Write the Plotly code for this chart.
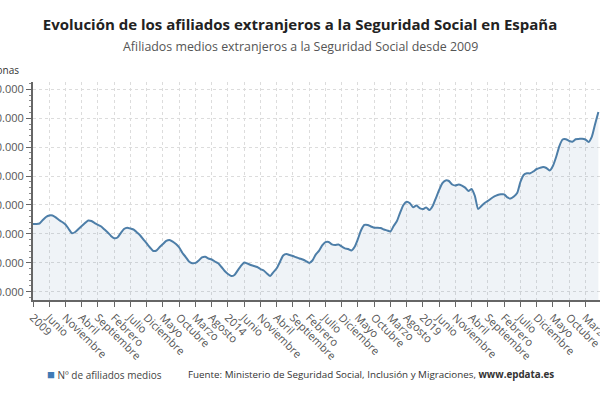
import plotly.graph_objects as go

# Afiliados medios extranjeros, mensual desde enero de 2009
afiliados = [
    1869000, 1869000, 1872000, 1896000, 1917000, 1927000, 1927000, 1914000, 1896000, 1882000,
    1865000, 1834000, 1804000, 1813000, 1834000, 1855000, 1875000, 1893000, 1889000, 1875000,
    1862000, 1851000, 1830000, 1810000, 1786000, 1770000, 1775000, 1806000, 1834000, 1843000,
    1837000, 1830000, 1810000, 1789000, 1761000, 1734000, 1706000, 1682000, 1685000, 1709000,
    1730000, 1751000, 1758000, 1747000, 1730000, 1706000, 1668000, 1640000, 1609000, 1597000,
    1599000, 1616000, 1637000, 1642000, 1630000, 1623000, 1609000, 1597000, 1571000, 1543000,
    1523000, 1509000, 1516000, 1547000, 1578000, 1602000, 1595000, 1585000, 1578000, 1571000,
    1557000, 1547000, 1526000, 1509000, 1536000, 1562000, 1606000, 1651000, 1661000, 1654000,
    1647000, 1638000, 1630000, 1623000, 1612000, 1599000, 1616000, 1657000, 1682000, 1720000,
    1743000, 1744000, 1727000, 1723000, 1727000, 1713000, 1700000, 1695000, 1685000, 1711000,
    1765000, 1827000, 1862000, 1862000, 1851000, 1843000, 1843000, 1841000, 1830000, 1824000,
    1817000, 1855000, 1889000, 1948000, 2000000, 2023000, 2012000, 1984000, 1997000, 1979000,
    1972000, 1983000, 1965000, 1993000, 2048000, 2104000, 2152000, 2170000, 2166000, 2142000,
    2135000, 2142000, 2134000, 2120000, 2097000, 2111000, 2062000, 1972000, 1993000, 2014000,
    2028000, 2045000, 2059000, 2069000, 2074000, 2074000, 2052000, 2045000, 2059000, 2083000,
    2159000, 2208000, 2219000, 2219000, 2232000, 2249000, 2257000, 2263000, 2256000, 2239000,
    2270000, 2332000, 2408000, 2453000, 2455000, 2443000, 2438000, 2455000, 2457000, 2459000,
    2453000, 2436000, 2473000, 2561000, 2644000,
]

meses = [f"{2009 + i // 12}-{i % 12 + 1:02d}" for i in range(len(afiliados))]

# una etiqueta cada cinco meses
etiquetas = [
    "2009", "Junio", "Noviembre", "Abril", "Septiembre", "Febrero", "Julio", "Diciembre",
    "Mayo", "Octubre", "Marzo", "Agosto", "2014", "Junio", "Noviembre", "Abril",
    "Septiembre", "Febrero", "Julio", "Diciembre", "Mayo", "Octubre", "Marzo", "Agosto",
    "2019", "Junio", "Noviembre", "Abril", "Septiembre", "Febrero", "Julio", "Diciembre",
    "Mayo", "Octubre", "Marzo",
]
y_ticks = [1400000, 1600000, 1800000, 2000000, 2200000, 2400000, 2600000, 2800000]

FONT = "Open Sans"
GRID = "#dcdcdc"

fig = go.Figure()
fig.add_trace(go.Scatter(
    x=meses, y=afiliados, mode="lines",
    line=dict(color="#4d7ea8", width=2, shape="spline", smoothing=0.6),
    fill="tozeroy", fillcolor="rgba(77,126,168,0.09)",
    showlegend=False, hoverinfo="skip",
))

fig.update_layout(
    width=600, height=400,
    margin=dict(l=33, r=0, t=82, b=100),
    paper_bgcolor="white", plot_bgcolor="white",
    font=dict(family=FONT, color="#555"),
    separators=",.",
    title=dict(
        text="<b>Evolución de los afiliados extranjeros a la Seguridad Social en España</b>",
        x=0.5, xref="container", xanchor="center",
        y=1 - 25 / 400, yref="container", yanchor="middle",
        font=dict(family=FONT, size=15, color="#222"),
    ),
    showlegend=False,
)

fig.update_xaxes(
    type="category", range=[0, 174.5], automargin=False,
    tickmode="array", tickvals=meses[::5], ticktext=etiquetas,
    tickangle=45, tickfont=dict(size=11, color="#555"),
    ticks="outside", ticklen=5, tickcolor="#666",
    showline=True, linecolor="#666", linewidth=2,
    showgrid=True, gridcolor=GRID, griddash="dot", gridwidth=1,
)
fig.update_yaxes(
    range=[1342600, 2851000], automargin=False,
    tickmode="array", tickvals=y_ticks, tickformat=",d",
    tickfont=dict(size=11, color="#555"),
    ticks="outside", ticklen=5, tickcolor="#666",
    showline=True, linecolor="#666", linewidth=2,
    showgrid=True, gridcolor=GRID, griddash="dot", gridwidth=1,
    zeroline=False,
    minor=dict(ticks="outside", ticklen=2, tickcolor="#888", dtick=40000, showgrid=False),
)

fig.add_annotation(
    text="Afiliados medios extranjeros a la Seguridad Social desde 2009",
    xref="paper", yref="paper", x=(300 - 33) / 567, y=(300 - 47) / 218,
    xanchor="center", yanchor="middle", showarrow=False,
    font=dict(family=FONT, size=12.4, color="#555"),
)
fig.add_annotation(
    text="Personas",
    xref="paper", yref="paper", x=(21 - 33) / 567, y=(300 - 70) / 218,
    xanchor="right", yanchor="middle", showarrow=False,
    font=dict(family=FONT, size=10, color="#333"),
)
fig.add_annotation(
    text="<span style='color:#3f7ab5;font-size:13px'>■</span> Nº de afiliados medios",
    xref="paper", yref="paper", x=(45 - 33) / 567, y=(300 - 374) / 218,
    xanchor="left", yanchor="middle", showarrow=False,
    font=dict(family=FONT, size=10, color="#444"),
)
fig.add_annotation(
    text="Fuente: Ministerio de Seguridad Social, Inclusión y Migraciones, <b>www.epdata.es</b>",
    xref="paper", yref="paper", x=(186 - 33) / 567, y=(300 - 374) / 218,
    xanchor="left", yanchor="middle", showarrow=False,
    font=dict(family=FONT, size=9.8, color="#333"),
)

# quitar el margen por defecto del body para que la figura empiece en 0,0
fig.write_html(
    "out.html",
    config={"displayModeBar": False},
    post_script="document.body.style.margin='0';",
)
